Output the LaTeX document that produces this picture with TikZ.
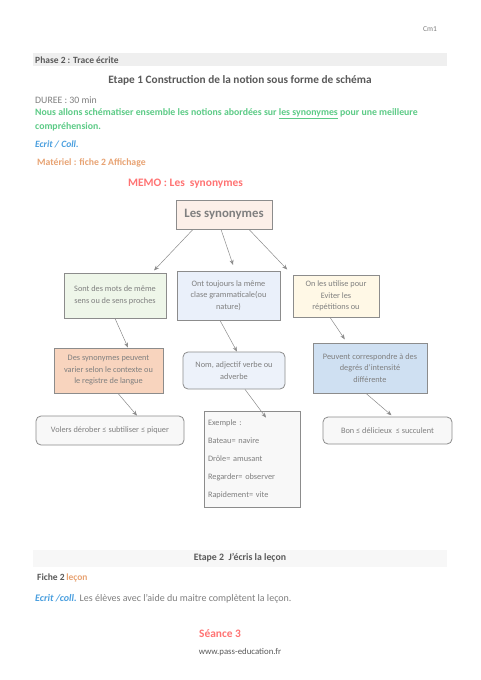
\documentclass[tikz,border=0pt]{standalone}
\usepackage{fontspec}
\setmainfont{Carlito}
\usepackage{tikz}
\usepackage{xcolor}
\usetikzlibrary{positioning,arrows.meta}
\definecolor{textgrey}{HTML}{7F7F7F}
\definecolor{headgrey}{HTML}{595959}
\definecolor{edgegrey}{HTML}{8C8C8C}
\definecolor{bargrey}{HTML}{EFEFEF}
\definecolor{barlight}{HTML}{F7F7F7}
\definecolor{notegreen}{HTML}{5CCB86}
\definecolor{noteblue}{HTML}{4A9FDF}
\definecolor{notetan}{HTML}{E8A373}
\definecolor{memored}{HTML}{FF7373}
\definecolor{rootbg}{HTML}{FCEFE8}
\definecolor{sensbg}{HTML}{EEF6E9}
\definecolor{classbg}{HTML}{EAF0FA}
\definecolor{usebg}{HTML}{FFF8E6}
\definecolor{regbg}{HTML}{F8D4BE}
\definecolor{natbg}{HTML}{EDF2FA}
\definecolor{degbg}{HTML}{CFE0F2}
\definecolor{exbg}{HTML}{F8F8F8}
\tikzset{
  box/.style={
    draw=edgegrey, align=center, inner sep=3pt, text=textgrey,
    font=\fontsize{8.3}{11.5}\selectfont, line width=0.8pt,
  },
  rbox/.style={box, rounded corners=5pt},
  flow/.style={-{Stealth[length=5pt,width=4pt]}, draw=edgegrey, line width=0.5pt},
  plain/.style={anchor=west, inner sep=0pt, font=\fontsize{9.8}{11}\selectfont},
  bar/.style={minimum width=414pt, inner sep=0pt},
}

\begin{document}
\begin{tikzpicture}[x=1pt, y=-1pt]
\useasboundingbox[fill=white] (0,0) rectangle (480,680);

% header
\node[plain, anchor=east, text=textgrey, font=\fontsize{7.5}{8}\selectfont] (cm) at (437,29) {Cm1};
\node[bar, fill=bargrey, minimum height=13pt] (phasebar) at (240,59) {};
\node[plain, text=headgrey, font=\bfseries\fontsize{9.5}{11}\selectfont] (phase) at (35,60) {Phase 2 : Trace écrite};
\node[inner sep=0pt, text=headgrey, font=\bfseries\fontsize{11.3}{13}\selectfont] (etape1) at (240,80)
  {Etape 1 Construction de la notion sous forme de schéma};
\node[plain, text=textgrey] (duree) at (35,100) {DUREE : 30 min};
\node[plain, text=notegreen, font=\bfseries\fontsize{9.8}{14}\selectfont, align=left, anchor=north west] (goal) at (35,108.5)
  {Nous allons schématiser ensemble les notions abordées sur \underline{les synonymes} pour une meilleure\\compréhension.};
\node[plain, text=noteblue, font=\bfseries\itshape\fontsize{9.6}{11}\selectfont] (mode) at (35,144) {Ecrit / Coll.};
\node[plain, text=notetan, font=\bfseries\fontsize{9.7}{11}\selectfont] (mat) at (37,163) {Matériel : fiche 2 Affichage};
\node[plain, text=memored, font=\bfseries\fontsize{11.4}{13}\selectfont] (memo) at (128,184) {MEMO : Les\ \ synonymes};

% diagram
\node[box, fill=rootbg, minimum width=96pt, minimum height=29pt, font=\bfseries\fontsize{12.8}{15}\selectfont] (root) at (224,214.5)
  {Les synonymes};

\node[box, fill=sensbg, minimum width=102pt, minimum height=45pt] (sens) at (115,295.5)
  {Sont des mots de même\\sens ou de sens proches};
\node[box, fill=classbg, minimum width=103pt, minimum height=49pt] (classe) at (228.5,295.5)
  {Ont toujours la même\\clase grammaticale(ou\\nature)};
\node[box, fill=usebg, minimum width=86pt, minimum height=42pt] (usage) at (336,296)
  {On les utilise pour\\Eviter les\\répétitions ou};

\node[box, fill=regbg, minimum width=109pt, minimum height=45pt] (registre) at (108.5,370.5)
  {Des synonymes peuvent\\varier selon le contexte ou\\le registre de langue};
\node[rbox, fill=natbg, minimum width=102pt, minimum height=37pt] (nature) at (234,370.5)
  {Nom, adjectif verbe ou\\adverbe};
\node[box, fill=degbg, minimum width=114pt, minimum height=50pt] (degre) at (370,368)
  {Peuvent correspondre à des\\degrés d'intensité\\différente};

\node[rbox, fill=exbg, minimum width=148pt, minimum height=29pt] (voler) at (110,430.5)
  {Volers dérober ≤ subtiliser ≤ piquer};
\node[box, fill=exbg, minimum width=96pt, minimum height=96pt, align=left, text width=88pt, font=\fontsize{8.3}{11}\selectfont] (exemple) at (252,459)
  {Exemple :\\[7pt]Bateau= navire\\[7pt]Drôle= amusant\\[7pt]Regarder= observer\\[7pt]Rapidement= vite};
\node[rbox, fill=exbg, minimum width=129pt, minimum height=27pt] (bon) at (387.5,430.5)
  {Bon ≤ délicieux\ \ ≤ succulent};

\draw[flow, shorten >=3pt] ([xshift=-31pt]root.south) -- ([xshift=37pt]sens.north);
\draw[flow, shorten >=6pt] ([xshift=-3pt]root.south) -- ([xshift=6.5pt]classe.north);
\draw[flow, shorten >=7pt] ([xshift=25pt]root.south) -- ([xshift=-44pt]usage.north);

\draw[flow] (sens.south) -- ([xshift=19.5pt]registre.north);
\draw[flow] ([xshift=-8.5pt]classe.south) -- ([xshift=3pt]nature.north);
\draw[flow, shorten >=4pt] ([xshift=-6pt]usage.south) -- ([xshift=-23pt]degre.north);

\draw[flow] ([xshift=9.5pt]registre.south) -- ([xshift=27pt]voler.north);
\draw[flow] ([xshift=11pt]nature.south) -- ([xshift=14pt,yshift=-7pt]exemple.north);
\draw[flow, shorten >=2pt] ([xshift=-4pt]degre.south) -- ([xshift=5.5pt]bon.north);

% lesson
\node[bar, fill=barlight, minimum height=17pt] (etapebar) at (240,558) {};
\node[inner sep=0pt, text=headgrey, font=\bfseries\fontsize{9.8}{11}\selectfont] (etape2) at (240,558)
  {Etape 2\ \ J'écris la leçon};
\node[plain, font=\bfseries\fontsize{9.5}{11}\selectfont] (fiche) at (37,578)
  {\textcolor{headgrey}{Fiche 2}\,\textcolor{notetan}{leçon}};
\node[plain, text=textgrey, font=\fontsize{10}{12}\selectfont] (lecon) at (35,599)
  {\textcolor{noteblue}{\bfseries\itshape Ecrit /coll.} Les élèves avec l'aide du maitre complètent la leçon.};
\node[inner sep=0pt, text=memored, font=\bfseries\fontsize{11.4}{13}\selectfont] (seance) at (220,634) {Séance 3};
\node[inner sep=0pt, text=headgrey, font=\fontsize{8.8}{10}\selectfont] (site) at (240,652) {www.pass-education.fr};

\end{tikzpicture}
\end{document}
